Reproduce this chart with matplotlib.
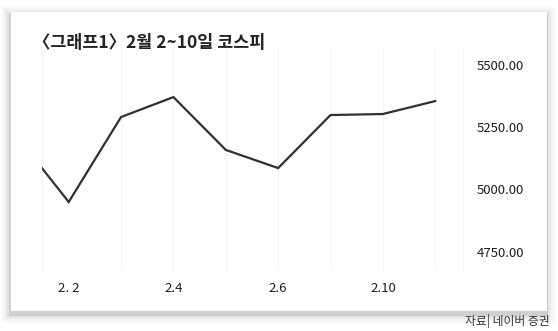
import matplotlib
matplotlib.use("Agg")
import matplotlib.pyplot as plt
from matplotlib.patches import FancyBboxPatch

plt.rcParams["font.family"] = ["Noto Sans CJK KR", "DejaVu Sans"]
plt.rcParams["axes.unicode_minus"] = False

# 코스피 종가 (1.30 ~ 2.11)
dates = ["1.30", "2. 2", "2.3", "2.4", "2.5", "2.6", "2.9", "2.10", "2.11"]
kospi = [5215, 4949, 5290, 5370, 5158, 5085, 5298, 5302, 5354]
shown_ticks = ["2. 2", "2.4", "2.6", "2.10"]
y_ticks = [4750, 5000, 5250, 5500]

title = "〈그래프1〉2월 2~10일 코스피"
source = "자료| 네이버 증권"

fig = plt.figure(figsize=(5.58, 3.31), dpi=100)
fig.patch.set_facecolor("white")

# 카드 + 그림자
W, H = 558, 331
cx0, cy0, cx1, cy1 = 11, 12, 547, 311
for g, a in [(9, 0.02), (7, 0.025), (5, 0.035), (3, 0.05), (1.5, 0.07)]:
    fig.patches.append(FancyBboxPatch(
        ((cx0 - g - 1) / W, 1 - (cy1 + g + 3) / H), (cx1 - cx0 + 2 * g) / W, (cy1 - cy0 + 2 * g) / H,
        boxstyle="square,pad=0", transform=fig.transFigure,
        facecolor="black", edgecolor="none", alpha=a, zorder=0))
fig.patches.append(FancyBboxPatch(
    (cx0 / W, 1 - cy1 / H), (cx1 - cx0) / W, (cy1 - cy0) / H,
    boxstyle="square,pad=0", transform=fig.transFigure,
    facecolor="white", edgecolor="none", zorder=1))

ax = fig.add_axes([42 / W, 1 - 271 / H, 421 / W, 224 / H])
ax.set_zorder(2)
ax.patch.set_alpha(0)

x = list(range(len(dates)))
for xi in x[2:]:
    ax.axvline(xi, color="#f4f4f4", linewidth=0.8, zorder=0)
ax.plot(x, kospi, color="#2e3038", linewidth=1.6, solid_joinstyle="miter", zorder=3)

ax.set_xlim(0.49, 8.53)
ax.set_ylim(4672, 5571)

ax.set_xticks([dates.index(d) for d in shown_ticks])
ax.set_xticklabels(shown_ticks, fontsize=9.5, color="#1e1e1e")
ax.set_yticks(y_ticks)
ax.set_yticklabels([f"{v:.2f}" for v in y_ticks], fontsize=9.5, color="#1e1e1e")
ax.yaxis.tick_right()
ax.tick_params(axis="both", length=0)
ax.tick_params(axis="x", pad=8)
ax.tick_params(axis="y", pad=10)
for s in ax.spines.values():
    s.set_color("#f4f4f4")
    s.set_linewidth(0.8)
ax.spines["top"].set_visible(False)
ax.spines["bottom"].set_visible(False)

fig.text(33 / W, 1 - 43 / H, title, fontsize=12.5, fontweight="bold",
         color="#222222", va="center", ha="left", zorder=5)
fig.text(550 / W, 1 - 321 / H, source, fontsize=8.5, color="#333333",
         va="center", ha="right")

fig.savefig("out.png", dpi=100)
